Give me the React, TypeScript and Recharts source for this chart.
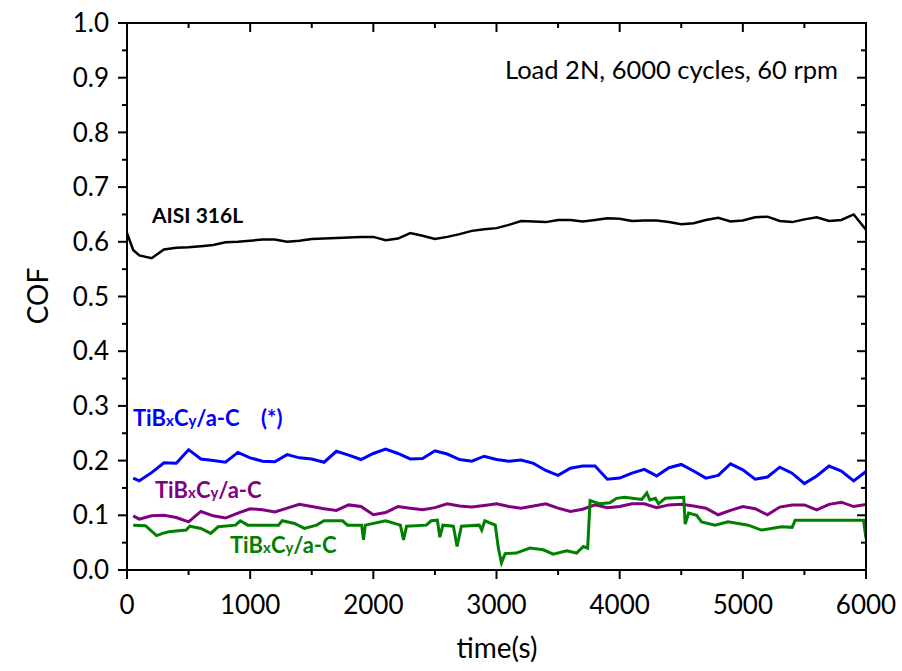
import React from "react";
import { LineChart, Line, XAxis, YAxis, ReferenceArea } from "recharts";

// time grid (s) shared by the AISI 316L and the two smoother coating curves
const timeS = [
  0, 50, 100, 200, 300, 400, 500, 600, 700, 800, 900, 1000, 1100, 1200, 1300, 1400,
  1500, 1600, 1700, 1800, 1900, 2000, 2100, 2200, 2300, 2400, 2500, 2600, 2700, 2800,
  2900, 3000, 3100, 3200, 3300, 3400, 3500, 3600, 3700, 3800, 3900, 4000, 4100, 4200,
  4300, 4400, 4500, 4600, 4700, 4800, 4900, 5000, 5100, 5200, 5300, 5400, 5500, 5600,
  5700, 5800, 5900, 6000,
];

const aisi316L = [
  0.616, 0.585, 0.575, 0.570, 0.586, 0.589, 0.590, 0.592, 0.594, 0.599, 0.600, 0.602,
  0.604, 0.604, 0.600, 0.602, 0.605, 0.606, 0.607, 0.608, 0.609, 0.609, 0.603, 0.606,
  0.616, 0.611, 0.605, 0.609, 0.614, 0.620, 0.623, 0.625, 0.631, 0.638, 0.637, 0.636,
  0.640, 0.640, 0.637, 0.640, 0.643, 0.642, 0.638, 0.639, 0.639, 0.636, 0.632, 0.634,
  0.640, 0.644, 0.637, 0.639, 0.645, 0.646, 0.638, 0.636, 0.641, 0.645, 0.638, 0.640,
  0.650, 0.622,
];

const tibcStar = [
  null, 0.168, 0.163, 0.178, 0.196, 0.195, 0.220, 0.203, 0.200, 0.197, 0.215, 0.205,
  0.199, 0.198, 0.211, 0.205, 0.203, 0.197, 0.217, 0.210, 0.202, 0.213, 0.221, 0.213,
  0.203, 0.204, 0.218, 0.212, 0.202, 0.199, 0.208, 0.202, 0.199, 0.201, 0.195, 0.182,
  0.173, 0.186, 0.190, 0.190, 0.166, 0.168, 0.177, 0.184, 0.172, 0.187, 0.193, 0.181,
  0.168, 0.173, 0.194, 0.183, 0.166, 0.170, 0.188, 0.177, 0.158, 0.172, 0.190, 0.181,
  0.163, 0.180,
];

const tibcPurple = [
  null, 0.099, 0.093, 0.099, 0.100, 0.096, 0.088, 0.107, 0.099, 0.095, 0.104, 0.112,
  0.110, 0.106, 0.113, 0.120, 0.116, 0.112, 0.109, 0.119, 0.116, 0.101, 0.105, 0.116,
  0.113, 0.110, 0.114, 0.121, 0.117, 0.115, 0.118, 0.121, 0.116, 0.113, 0.117, 0.121,
  0.113, 0.107, 0.111, 0.119, 0.114, 0.116, 0.121, 0.121, 0.114, 0.119, 0.120, 0.117,
  0.113, 0.101, 0.109, 0.116, 0.112, 0.101, 0.115, 0.119, 0.119, 0.110, 0.120, 0.124,
  0.116, 0.120,
];

// green curve has sharp steps and spikes, so it gets its own time points
const greenTime = [
  50, 150, 240, 290, 340, 480, 510, 600, 680, 740, 880, 920, 980, 1230, 1260, 1360,
  1440, 1540, 1600, 1750, 1790, 1905, 1920, 1935, 2100, 2220, 2245, 2270, 2430, 2470,
  2520, 2540, 2565, 2650, 2680, 2715, 2860, 2880, 2905, 2990, 3015, 3040, 3070, 3160,
  3270, 3380, 3460, 3570, 3650, 3705, 3740, 3760, 3840, 3920, 3975, 4040, 4180, 4220,
  4245, 4290, 4315, 4370, 4520, 4532, 4560, 4625, 4665, 4775, 4880, 5045, 5150, 5315,
  5400, 5425, 5980, 6000,
];
const tibcGreen = [
  0.082, 0.081, 0.063, 0.067, 0.070, 0.073, 0.080, 0.076, 0.067, 0.079, 0.082, 0.090,
  0.082, 0.082, 0.090, 0.085, 0.076, 0.082, 0.090, 0.090, 0.082, 0.082, 0.055, 0.082,
  0.090, 0.082, 0.055, 0.080, 0.082, 0.090, 0.091, 0.060, 0.082, 0.080, 0.043, 0.080,
  0.082, 0.073, 0.090, 0.082, 0.040, 0.013, 0.030, 0.031, 0.040, 0.037, 0.029, 0.035,
  0.031, 0.043, 0.040, 0.127, 0.121, 0.123, 0.131, 0.133, 0.129, 0.141, 0.128, 0.131,
  0.121, 0.131, 0.133, 0.084, 0.104, 0.100, 0.088, 0.082, 0.088, 0.082, 0.073, 0.079,
  0.078, 0.091, 0.091, 0.058,
];

const xTicks = [0, 500, 1000, 1500, 2000, 2500, 3000, 3500, 4000, 4500, 5000, 5500, 6000];
const yTicks = [
  0, 0.05, 0.1, 0.15, 0.2, 0.25, 0.3, 0.35, 0.4, 0.45, 0.5, 0.55, 0.6, 0.65, 0.7, 0.75,
  0.8, 0.85, 0.9, 0.95, 1.0,
];

const blackData = timeS.map((t, i) => ({ t, v: aisi316L[i] }));
const blueData = timeS.map((t, i) => ({ t, v: tibcStar[i] }));
const purpleData = timeS.map((t, i) => ({ t, v: tibcPurple[i] }));
const greenData = greenTime.map((t, i) => ({ t, v: tibcGreen[i] }));

const W = 902;
const H = 671;
const margin = { top: 23, right: 36, bottom: 41, left: 47 };
const X_AXIS_H = 60;
const Y_AXIS_W = 80;
// plot box, derived from the same margins the chart uses
const plot = {
  left: margin.left + Y_AXIS_W,
  right: W - margin.right,
  top: margin.top,
  bottom: H - margin.bottom - X_AXIS_H,
};
const sx = (t: number) => plot.left + (t / 6000) * (plot.right - plot.left);
const sy = (v: number) => plot.bottom - v * (plot.bottom - plot.top);

const FONT = "Lato, 'Open Sans', sans-serif";

const isMajorX = (v: number) => v % 1000 === 0;
const isMajorY = (v: number) => Math.round(v * 100) % 10 === 0;

const BottomTick = (props: any) => {
  const { x, y, payload } = props;
  const major = isMajorX(payload.value);
  return (
    <g>
      <line x1={x} x2={x} y1={y} y2={y + (major ? 9 : 5)} stroke="#000" strokeWidth={2} />
      {major && (
        <text x={x} y={y + 35} dy="0.35em" textAnchor="middle" fontSize={26} fontFamily={FONT} fill="#000">
          {payload.value}
        </text>
      )}
    </g>
  );
};

const LeftTick = (props: any) => {
  const { x, y, payload } = props;
  const major = isMajorY(payload.value);
  return (
    <g>
      <line x1={x} x2={x - (major ? 9 : 5)} y1={y} y2={y} stroke="#000" strokeWidth={2} />
      {major && (
        <text x={x - 18} y={y} dy="0.35em" textAnchor="end" fontSize={26} fontFamily={FONT} fill="#000">
          {payload.value.toFixed(1)}
        </text>
      )}
    </g>
  );
};

const Coating = ({ x, y, fill, suffix }: { x: number; y: number; fill: string; suffix?: string }) => (
  <text x={x} y={y} fill={fill} fontSize={22} fontWeight="bold" fontFamily={FONT}>
    TiB<tspan fontSize={15}>x</tspan>C<tspan fontSize={15}>y</tspan>/a-C{suffix ?? ""}
  </text>
);

export default function App() {
  return (
    <div style={{ position: "absolute", left: 0, top: 0, width: W, height: H, background: "#fff" }}>
      <LineChart width={W} height={H} margin={margin}>
        <XAxis
          dataKey="t"
          type="number"
          domain={[0, 6000]}
          ticks={xTicks}
          height={X_AXIS_H}
          tickSize={0}
          tickMargin={0}
          tickLine={false}
          axisLine={{ stroke: "#000", strokeWidth: 2 }}
          tick={BottomTick}
          interval={0}
          allowDataOverflow
        />
        <YAxis
          type="number"
          domain={[0, 1]}
          ticks={yTicks}
          width={Y_AXIS_W}
          tickSize={0}
          tickMargin={0}
          tickLine={false}
          axisLine={{ stroke: "#000", strokeWidth: 2 }}
          tick={LeftTick}
          interval={0}
          allowDataOverflow
        />
        <ReferenceArea x1={0} x2={6000} y1={0} y2={1} fill="none" fillOpacity={0} stroke="#000" strokeWidth={2} ifOverflow="visible" />
        <Line data={blackData} dataKey="v" type="linear" stroke="#000000" strokeWidth={2.5} dot={false} isAnimationActive={false} />
        <Line data={purpleData} dataKey="v" type="linear" stroke="#800080" strokeWidth={3} dot={false} isAnimationActive={false} />
        <Line data={greenData} dataKey="v" type="linear" stroke="#008000" strokeWidth={3} dot={false} isAnimationActive={false} />
        <Line data={blueData} dataKey="v" type="linear" stroke="#0000ff" strokeWidth={3} dot={false} isAnimationActive={false} />
      </LineChart>
      <svg width={W} height={H} style={{ position: "absolute", left: 0, top: 0, pointerEvents: "none" }}>
        {/* plot frame with inward ticks on the top and right sides */}
        <rect
          x={plot.left}
          y={plot.top}
          width={plot.right - plot.left}
          height={plot.bottom - plot.top}
          fill="none"
          stroke="#000000"
          strokeWidth={2}
        />
        {xTicks.map((t) => (
          <line key={`tx${t}`} x1={sx(t)} x2={sx(t)} y1={plot.top} y2={plot.top + (isMajorX(t) ? 9 : 5)} stroke="#000" strokeWidth={2} />
        ))}
        {yTicks.map((v) => (
          <line key={`ty${v}`} x1={plot.right} x2={plot.right - (isMajorY(v) ? 9 : 5)} y1={sy(v)} y2={sy(v)} stroke="#000" strokeWidth={2} />
        ))}
        <text x={838} y={70} dy="0.35em" textAnchor="end" fontSize={25.5} fontFamily={FONT} fill="#000">
          Load 2N, 6000 cycles, 60 rpm
        </text>
        <text x={152} y={223} fill="#000" fontSize={21} fontWeight="bold" fontFamily={FONT}>
          AISI 316L
        </text>
        <Coating x={133} y={426} fill="#0000ff" suffix={"\u00a0\u00a0\u00a0\u00a0(*)"} />
        <Coating x={155} y={498} fill="#800080" />
        <Coating x={230} y={553} fill="#008000" />
        <text x={38} y={296} dy="0.35em" textAnchor="middle" transform="rotate(-90 38 296)" fontSize={28} fontFamily={FONT} fill="#000">
          COF
        </text>
        <text x={497} y={648} dy="0.35em" textAnchor="middle" fontSize={28} fontFamily={FONT} fill="#000">
          time(s)
        </text>
      </svg>
    </div>
  );
}
